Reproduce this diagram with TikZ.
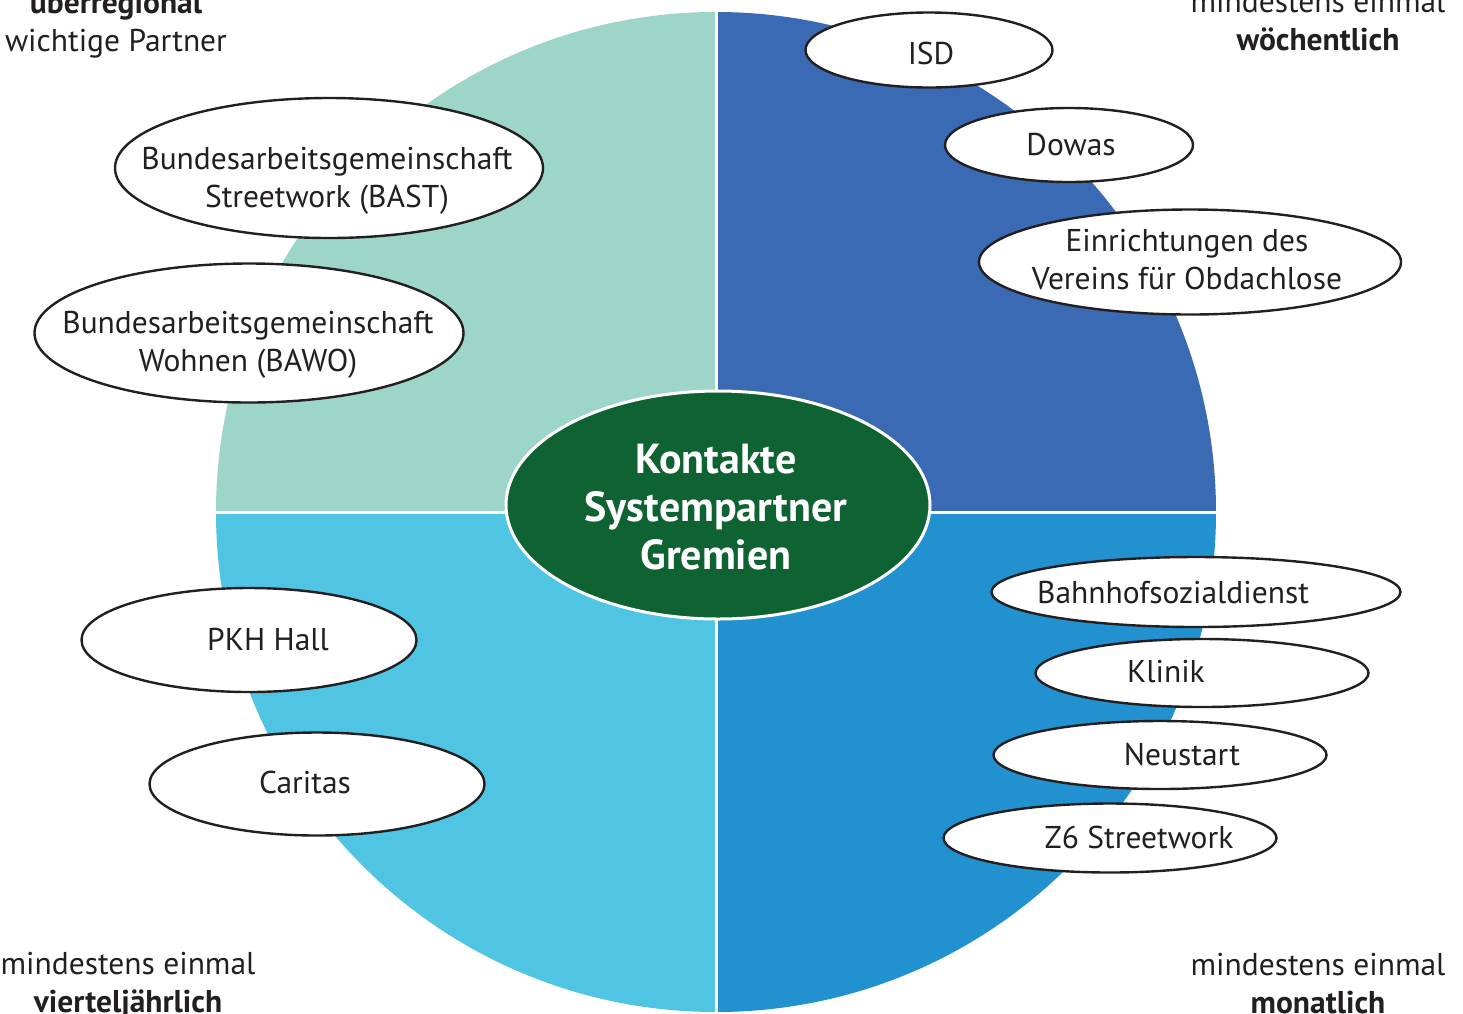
\documentclass[tikz,border=0pt]{standalone}
\usepackage{fontspec}
\setmainfont{PT Sans}
\usepackage{xcolor}
\usepackage{tikz}
\usetikzlibrary{shapes.geometric,positioning}

\definecolor{partnerteal}{HTML}{9DD5C9}
\definecolor{weeklyblue}{HTML}{3A6AB3}
\definecolor{quarterlysky}{HTML}{4FC4E3}
\definecolor{monthlyblue}{HTML}{2291CF}
\definecolor{hubgreen}{HTML}{0F6333}
\definecolor{ink}{HTML}{231F20}

\tikzset{
  oval/.style={ellipse, draw=ink, line width=2.4pt, fill=white, inner sep=0pt},
  label text/.style={font=\fontsize{31.5}{38}\selectfont, text=ink, align=center, inner sep=0pt},
  hub/.style={ellipse, draw=white, line width=3pt, fill=hubgreen, text=white, inner sep=0pt,
    align=center, font=\fontsize{42}{48}\selectfont\bfseries},
}

\begin{document}
\begin{tikzpicture}[x=1pt,y=-1pt]
    \useasboundingbox (0,0) rectangle (1463,1013);

    % Quadrants
    \begin{scope}
      \clip (716,512) circle[radius=500];
      \fill[partnerteal] (216,12) rectangle (716,512);
      \fill[weeklyblue] (716,12) rectangle (1216,512);
      \fill[quarterlysky] (216,512) rectangle (716,1012);
      \fill[monthlyblue] (716,512) rectangle (1216,1012);
    \end{scope}
    \draw[white, line width=3pt] (716,12) -- (716,1012);
    \draw[white, line width=3pt] (216,512) -- (1216,512);

    % Centre
    \node[hub, minimum width=424, minimum height=228] (hub) at (718,505) {};
    \node[hub, draw=none, fill=none, anchor=base] (hub text) at (716,569)
      {Kontakte\\Systempartner\\Gremien};

    % Ellipses
    \node[oval, minimum width=247, minimum height=75] (isd) at (929,50) {};
    \node[oval, minimum width=248, minimum height=74] (dowas) at (1069,145) {};
    \node[oval, minimum width=422, minimum height=105] (vfo) at (1190,262) {};
    \node[oval, minimum width=428, minimum height=140] (bast) at (329,168) {};
    \node[oval, minimum width=429, minimum height=139] (bawo) at (249,333) {};
    \node[oval, minimum width=335, minimum height=104] (pkh) at (249,640) {};
    \node[oval, minimum width=335, minimum height=103] (caritas) at (317,784) {};
    \node[oval, minimum width=409, minimum height=70] (bahnhof) at (1196,592) {};
    \node[oval, minimum width=333, minimum height=68] (klinik) at (1202,673) {};
    \node[oval, minimum width=333, minimum height=68] (neustart) at (1160,755) {};
    \node[oval, minimum width=333, minimum height=69] (z6) at (1110,838) {};

    % Labels
    \node[label text, anchor=base] (isd text) at (931,64) {ISD};
    \node[label text, anchor=base] (dowas text) at (1071,155) {Dowas};
    \node[label text, anchor=base] (vfo text) at (1187,289) {Einrichtungen des\\Vereins für Obdachlose};
    \node[label text, anchor=base] (bast text) at (327,207) {Bundesarbeitsgemeinschaft\\Streetwork (BAST)};
    \node[label text, anchor=base] (bawo text) at (248,371) {Bundesarbeitsgemeinschaft\\Wohnen (BAWO)};
    \node[label text, anchor=base] (pkh text) at (268,650) {PKH Hall};
    \node[label text, anchor=base] (caritas text) at (305,793) {Caritas};
    \node[label text, anchor=base] (bahnhof text) at (1173,603) {Bahnhofsozialdienst};
    \node[label text, anchor=base] (klinik text) at (1166,682) {Klinik};
    \node[label text, anchor=base] (neustart text) at (1182,765) {Neustart};
    \node[label text, anchor=base] (z6 text) at (1139,848) {Z6 Streetwork};

    % Corner labels
    \node[label text, anchor=base] (partner) at (116,51) {\textbf{überregional}\\wichtige Partner};
    \node[label text, anchor=base] (weekly) at (1318,50) {mindestens einmal\\\textbf{wöchentlich}};
    \node[label text, anchor=base] (quarterly) at (128,1012) {mindestens einmal\\\textbf{vierteljährlich}};
    \node[label text, anchor=base] (monthly) at (1318,1013) {mindestens einmal\\\textbf{monatlich}};
\end{tikzpicture}
\end{document}
